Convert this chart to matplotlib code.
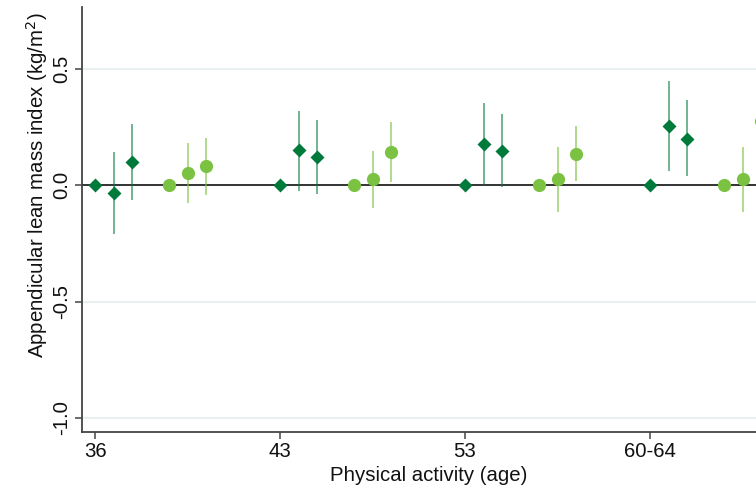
import matplotlib
matplotlib.use("Agg")
import matplotlib.pyplot as plt
import numpy as np

plt.rcParams["font.family"] = ["Liberation Sans", "DejaVu Sans"]

# Age groups at which physical activity was recorded
ages = ["36", "43", "53", "60-64"]

# Dark green diamonds: three activity levels per age (reference level = 0)
dia_est = [[0.0, -0.034, 0.097],
           [0.0, 0.149, 0.119],
           [0.0, 0.176, 0.147],
           [0.0, 0.253, 0.199]]
dia_lo = [[0.0, -0.210, -0.064],
          [0.0, -0.024, -0.039],
          [0.0, 0.000, -0.008],
          [0.0, 0.061, 0.037]]
dia_hi = [[0.0, 0.143, 0.260],
          [0.0, 0.318, 0.278],
          [0.0, 0.350, 0.303],
          [0.0, 0.446, 0.363]]

# Light green circles: three activity levels per age
cir_est = [[0.0, 0.051, 0.080],
           [0.0, 0.026, 0.142],
           [0.0, 0.026, 0.134],
           [0.0, 0.026, 0.276]]
cir_lo = [[0.0, -0.079, -0.042],
          [0.0, -0.097, 0.013],
          [0.0, -0.114, 0.019],
          [0.0, -0.114, 0.150]]
cir_hi = [[0.0, 0.180, 0.203],
          [0.0, 0.147, 0.269],
          [0.0, 0.162, 0.252],
          [0.0, 0.162, 0.400]]

dia_offsets = [0.0, 0.1, 0.2]
cir_offsets = [0.4, 0.5, 0.6]

dark = "#007a3b"
light = "#7cc242"

W, H = 756, 490
fig = plt.figure(figsize=(W / 100, H / 100), dpi=100)
# axes run on past the right edge of the figure
left, bottom, top, right = 82, 432, 7, 1000
ax = fig.add_axes([left / W, (H - bottom) / H, (right - left) / W, (bottom - top) / H])

px_per_group = 185.0
px_per_unit = 233.0
ax.set_xlim(-(95 - left) / px_per_group, (right - 95) / px_per_group)
ax.set_ylim((185 - bottom) / px_per_unit, (185 - top) / px_per_unit)

for g in range(len(dia_est)):
    for k in range(3):
        x = g + dia_offsets[k]
        if k > 0:
            ax.plot([x, x], [dia_lo[g][k], dia_hi[g][k]], color=dark, alpha=0.6,
                    lw=1.3, zorder=3, solid_capstyle="butt")
        ax.plot(x, dia_est[g][k], marker="D", ms=7, color=dark, mec="none", zorder=4)
    for k in range(3):
        x = g + cir_offsets[k]
        if k > 0:
            ax.plot([x, x], [cir_lo[g][k], cir_hi[g][k]], color=light, alpha=0.65,
                    lw=1.3, zorder=3, solid_capstyle="butt")
        ax.plot(x, cir_est[g][k], marker="o", ms=9.5, color=light, mec="none", zorder=4)

ax.axhline(0, color="#333333", lw=1.4, zorder=2)
for yv in [0.5, -0.5, -1.0]:
    ax.axhline(yv, color="#e8f0f2", lw=1.4, zorder=1)

ax.set_xticks(range(len(ages)))
ax.set_xticklabels(ages)
ax.set_yticks([-1.0, -0.5, 0.0, 0.5])
ax.set_yticklabels(["-1.0", "-0.5", "0.0", "0.5"], rotation=90, va="center")

for s in ["top", "right"]:
    ax.spines[s].set_visible(False)
for s in ["left", "bottom"]:
    ax.spines[s].set_color("#444444")
    ax.spines[s].set_linewidth(1.3)

fs = 14.7
ax.tick_params(axis="both", length=5, width=1.1, color="#444444", labelsize=fs,
               labelcolor="#111111")
ax.tick_params(axis="x", pad=2)
ax.tick_params(axis="y", pad=3)

ax.set_xlabel("Physical activity (age)", fontsize=fs, color="#111111")
ax.xaxis.set_label_coords(429 / W, (H - 475) / H, transform=fig.transFigure)
ax.xaxis.label.set_va("center")
ax.set_ylabel("Appendicular lean mass index (kg/m$^2$)", fontsize=fs, color="#111111")
ax.yaxis.set_label_coords(37 / W, (H - 185) / H, transform=fig.transFigure)
ax.yaxis.label.set_va("center")

fig.savefig("out.png", dpi=100)
